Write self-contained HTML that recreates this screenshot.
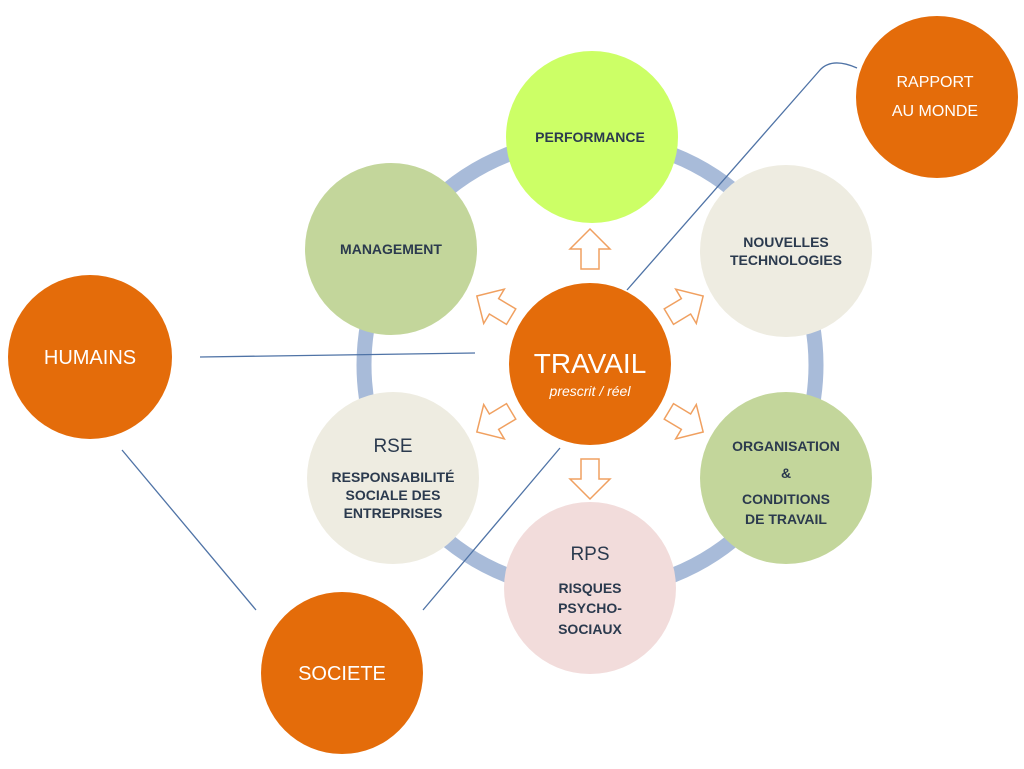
<!DOCTYPE html>
<html><head><meta charset="utf-8"><style>
html,body{margin:0;padding:0;background:#fff;}
svg{display:block;}
text{font-family:"Liberation Sans Narrow","Liberation Sans",sans-serif;}
.d{fill:#2b3a4e;font-weight:bold;font-size:14px;text-anchor:middle;}
.w{fill:#fff;text-anchor:middle;font-family:"Liberation Sans",sans-serif;}
</style></head><body>
<svg width="1024" height="769" viewBox="0 0 1024 769" xmlns="http://www.w3.org/2000/svg">
<circle cx="590" cy="365" r="226" fill="none" stroke="#a8bbd9" stroke-width="15"/>
<g stroke="#4f73a6" stroke-width="1.3" fill="none">
<line x1="200" y1="357" x2="475" y2="353"/>
<line x1="122" y1="450" x2="256" y2="610"/>
<line x1="423" y1="610" x2="560" y2="448"/>
<path d="M627 290 L820 70 Q832 57 857 68"/>
</g>
<circle cx="592" cy="137" r="86" fill="#ccff66"/>
<circle cx="391" cy="249" r="86" fill="#c3d69b"/>
<circle cx="786" cy="251" r="86" fill="#eeece1"/>
<circle cx="393" cy="478" r="86" fill="#eeece1"/>
<circle cx="786" cy="478" r="86" fill="#c3d69b"/>
<circle cx="590" cy="588" r="86" fill="#f2dcdb"/>
<circle cx="590" cy="364" r="81" fill="#e46c0a"/>
<circle cx="90" cy="357" r="82" fill="#e46c0a"/>
<circle cx="342" cy="673" r="81" fill="#e46c0a"/>
<circle cx="937" cy="97" r="81" fill="#e46c0a"/>
<g fill="#fff" stroke="#f0a060" stroke-width="1.5">
<polygon transform="translate(590,364) rotate(0) translate(0,-115)" points="0,-20 20,0 9,0 9,20 -9,20 -9,0 -20,0"/>
<polygon transform="translate(590,364) rotate(180) translate(0,-115)" points="0,-20 20,0 9,0 9,20 -9,20 -9,0 -20,0"/>
<polygon transform="translate(590,364) rotate(59) translate(0,-112)" points="0,-20 20,0 9,0 9,20 -9,20 -9,0 -20,0"/>
<polygon transform="translate(590,364) rotate(-59) translate(0,-112)" points="0,-20 20,0 9,0 9,20 -9,20 -9,0 -20,0"/>
<polygon transform="translate(590,364) rotate(121) translate(0,-112)" points="0,-20 20,0 9,0 9,20 -9,20 -9,0 -20,0"/>
<polygon transform="translate(590,364) rotate(-121) translate(0,-112)" points="0,-20 20,0 9,0 9,20 -9,20 -9,0 -20,0"/>
</g>
<text class="d" x="590" y="142">PERFORMANCE</text>
<text class="d" x="391" y="254">MANAGEMENT</text>
<text class="d" x="786" y="247">NOUVELLES</text>
<text class="d" x="786" y="265">TECHNOLOGIES</text>
<text class="d" x="393" y="452" style="font-size:19px;font-weight:normal">RSE</text>
<text class="d" x="393" y="482">RESPONSABILITÉ</text>
<text class="d" x="393" y="500">SOCIALE DES</text>
<text class="d" x="393" y="518">ENTREPRISES</text>
<text class="d" x="786" y="451">ORGANISATION</text>
<text class="d" x="786" y="478">&amp;</text>
<text class="d" x="786" y="504">CONDITIONS</text>
<text class="d" x="786" y="524">DE TRAVAIL</text>
<text class="d" x="590" y="560" style="font-size:19px;font-weight:normal">RPS</text>
<text class="d" x="590" y="593">RISQUES</text>
<text class="d" x="590" y="613">PSYCHO-</text>
<text class="d" x="590" y="634">SOCIAUX</text>
<text class="w" x="590" y="373" style="font-size:28px">TRAVAIL</text>
<text class="w" x="590" y="396" style="font-size:14px;font-style:italic">prescrit / réel</text>
<text class="w" x="90" y="364" style="font-size:20px">HUMAINS</text>
<text class="w" x="342" y="680" style="font-size:20px">SOCIETE</text>
<text class="w" x="935" y="87" style="font-size:16px">RAPPORT</text>
<text class="w" x="935" y="116" style="font-size:16px">AU MONDE</text>
</svg>
</body></html>
